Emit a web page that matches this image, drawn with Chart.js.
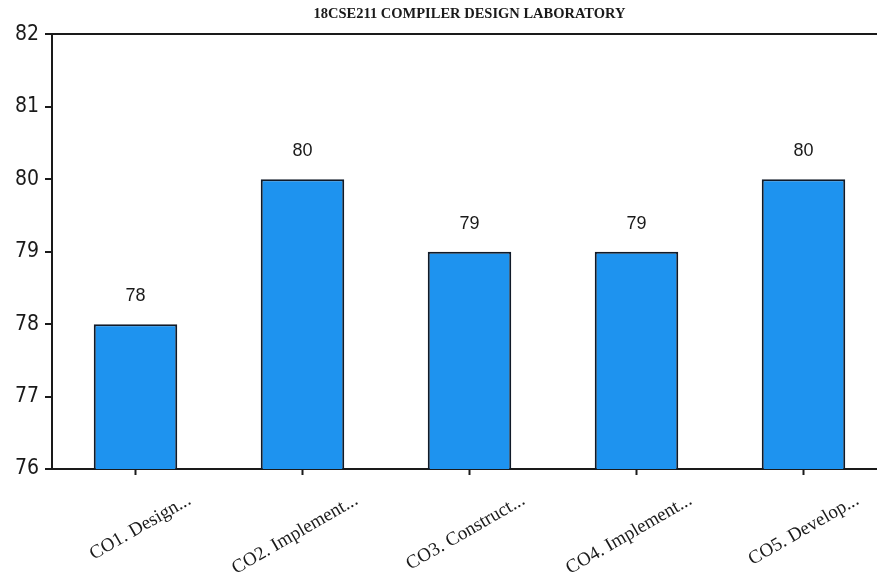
<!DOCTYPE html>
<html>
<head>
<meta charset="utf-8">
<script src="https://cdn.jsdelivr.net/npm/chart.js@4/dist/chart.umd.min.js"></script>
<style>
html,body{margin:0;padding:0;background:#fff;overflow:hidden;}
#wrap{width:877px;height:584px;overflow:hidden;position:relative;}
canvas{display:block;}
</style>
</head>
<body>
<div id="wrap"><canvas id="c" width="890" height="584"></canvas></div>
<script>
const titleText = "18CSE211 COMPILER DESIGN LABORATORY";
const categories = ["CO1. Design...", "CO2. Implement...", "CO3. Construct...", "CO4. Implement...", "CO5. Develop..."];
const values = [78, 80, 79, 79, 80];
const yMin = 76, yMax = 82, yStep = 1;

const valueLabels = {
  id: 'valueLabels',
  afterDatasetsDraw(chart) {
    const ctx = chart.ctx;
    const meta = chart.getDatasetMeta(0);
    ctx.save();
    ctx.font = '18px "Liberation Sans", Arial, sans-serif';
    ctx.fillStyle = '#1a1a1a';
    ctx.textAlign = 'center';
    ctx.textBaseline = 'middle';
    meta.data.forEach((bar, i) => {
      ctx.fillText(String(chart.data.datasets[0].data[i]), bar.x, bar.y - 28);
    });
    ctx.restore();
  }
};

new Chart(document.getElementById('c'), {
  type: 'bar',
  data: {
    labels: categories,
    datasets: [{
      data: values,
      backgroundColor: '#1e93ef',
      borderColor: '#101a28',
      borderWidth: 2,
      barPercentage: 0.5,
      categoryPercentage: 1.0
    }]
  },
  options: {
    responsive: false,
    animation: false,
    layout: { padding: { left: 8, right: 3, top: 0, bottom: 0 } },
    plugins: {
      legend: { display: false },
      tooltip: { enabled: false },
      title: {
        display: true,
        text: titleText,
        fullSize: false,
        color: '#1a1a1a',
        font: { family: '"Liberation Serif", serif', size: 14.5, weight: 'bold' },
        padding: { top: 6, bottom: 11 }
      }
    },
    scales: {
      x: {
        border: { display: true, color: '#1a1a1a', width: 2 },
        grid: { display: true, offset: false, drawOnChartArea: false, color: 'rgba(0,0,0,0)', tickColor: '#1a1a1a', tickLength: 6, tickWidth: 2 },
        ticks: {
          color: '#1a1a1a',
          font: { family: '"Liberation Serif", serif', size: 19 },
          minRotation: 30, maxRotation: 30,
          autoSkip: false,
          labelOffset: 54,
          padding: 14
        },
        afterFit(scale) { scale.height = 115; }
      },
      y: {
        min: yMin, max: yMax,
        border: { display: true, color: '#1a1a1a', width: 2 },
        grid: {
          color: (c) => (c.tick && c.tick.value === yMax) ? '#1a1a1a' : 'rgba(0,0,0,0)',
          lineWidth: 2,
          tickColor: '#1a1a1a',
          tickLength: 7,
          tickWidth: 2
        },
        ticks: {
          stepSize: yStep,
          color: '#1a1a1a',
          font: { family: '"DejaVu Sans Condensed", "Liberation Sans Narrow", "Liberation Sans", sans-serif', size: 21 },
          padding: 6
        },
        afterFit(scale) { scale.width = 44; }
      }
    }
  },
  plugins: [valueLabels]
});
</script>
</body>
</html>
